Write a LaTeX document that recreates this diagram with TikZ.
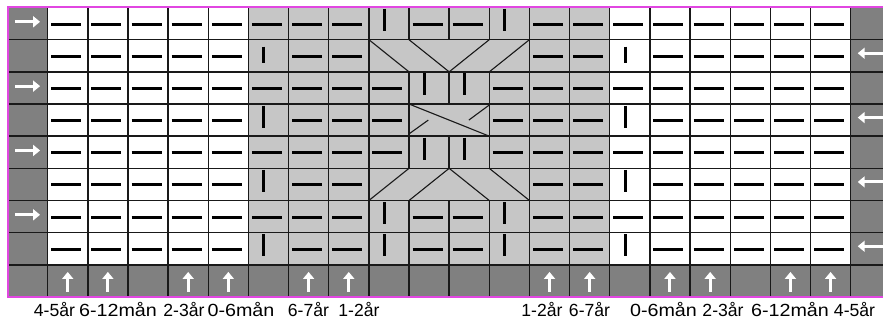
\documentclass[tikz,border=0pt]{standalone}
\usepackage{fontspec}
\usepackage{graphicx}
\setmainfont{Liberation Sans}
\usetikzlibrary{arrows.meta}
\definecolor{darkg}{RGB}{128,128,128}
\definecolor{lightg}{RGB}{198,198,198}
\definecolor{mag}{RGB}{225,70,225}
\definecolor{gridc}{RGB}{25,25,25}
\newcommand\knitdash[2]{\draw[knit] (#1+0.5,#2-0.5) ++(-16.5pt,-0.5pt) -- ++(30pt,0pt);}
\newcommand\knitbar[2]{\draw[knit] (#1+0.5,#2-1) ++(-4.7pt,-1.5pt) -- ++(0pt,-22pt);}
\newcommand\knitbarshort[2]{\draw[knit] (#1+0.5,#2-1) ++(-4.7pt,-7pt) -- ++(0pt,-16pt);}
\begin{document}
\begin{tikzpicture}[x=1pt,y=-1pt,
  gridline/.style={draw=gridc,line width=1.4},
  cabline/.style={draw=gridc,line width=1.1},
  knit/.style={line width=3.1,black},
  arr/.style={white,line width=3,-{Triangle[length=7pt,width=11pt]}},
  lab/.style={anchor=base,inner sep=0pt,font=\fontsize{17.6}{20}\selectfont}]
\useasboundingbox (0,0) rectangle (883,320);
\fill[white] (0,0) rectangle (883,320);
\begin{scope}
\clip (0,0) rectangle (883,320);
\begin{scope}[shift={(7.5,7.5)},x=40.15pt,y=-32.17pt]
 % fills
 \fill[darkg] (0,0) rectangle (22,9);
 \fill[white] (1,0) rectangle (6,8);
 \fill[white] (15,0) rectangle (21,8);
 \fill[lightg] (6,0) rectangle (15,8);
 % grid
 \foreach \r in {0,...,9} \draw[gridline] (0,\r) -- (22,\r);
 \foreach \c in {0,...,9,13,14,...,22} \draw[gridline] (\c,0) -- (\c,9);
 \draw[gridline] (10,0)--(10,1) (10,2)--(10,5) (10,6)--(10,9);
 \draw[gridline] (12,0)--(12,1) (12,2)--(12,5) (12,6)--(12,9);
 \draw[gridline] (11,0)--(11,1) (11,2)--(11,3) (11,4)--(11,5) (11,6)--(11,9);
 % cable lines
 \draw[cabline] (9,1)--(10,2) (10,1)--(11,2) (11,2)--(12,1) (12,2)--(13,1);
 \draw[cabline] (9,6)--(10,5) (10,6)--(11,5) (11,5)--(12,6) (12,5)--(13,6);
 \draw[cabline] (10,3)--(12,4);
 \draw[cabline] (10,3.93)--(10.48,3.5) (11.49,3.5)--(12,3.03);
 % border
 \draw[mag,line width=2] (22,0) -- (0,0) -- (0,9) -- (22,9);
 % stitches
 \foreach \c in {1,2,3,4,5,7,8,13,14,16,17,18,19,20}
   \foreach \r in {1,...,8} {\knitdash{\c}{\r}}
 \foreach \c in {6,15} {
   \foreach \r in {1,3,5,7} {\knitdash{\c}{\r}}
   \foreach \r in {4,6,8} {\knitbar{\c}{\r}}
   \knitbarshort{\c}{2}
 }
 \foreach \c in {9,12} {
   \foreach \r in {1,7,8} {\knitbar{\c}{\r}}
   \foreach \r in {3,4,5} {\knitdash{\c}{\r}}
 }
 \foreach \c in {10,11} {
   \foreach \r in {3,5} {\knitbar{\c}{\r}}
   \foreach \r in {1,7,8} {\knitdash{\c}{\r}}
 }
 % arrows
 \foreach \r in {1,3,5,7}
   \draw[arr] (0.5,\r-0.5) ++(-12.5pt,1.8pt) -- ++(25pt,0pt);
 \foreach \r in {2,4,6,8}
   \draw[arr] (21.5,\r-0.5) ++(13pt,2.5pt) -- ++(-26pt,0pt);
 \foreach \c in {1,2,4,5,7,8,13,14,16,17,19,20}
   \draw[arr] (\c+0.5,8.5) ++(0pt,-11pt) -- ++(0pt,20pt);
\end{scope}
\end{scope}
% labels
\node[lab] (l1) at (54.5,316.5) {4-5år};
\node[lab] (l2) at (118,316.5) {\scalebox{1.12}[1]{6-12mån}};
\node[lab] (l3) at (184,316.5) {2-3år};
\node[lab] (l4) at (241,316.5) {\scalebox{1.12}[1]{0-6mån}};
\node[lab] (l5) at (308.5,316.5) {6-7år};
\node[lab] (l6) at (359,316.5) {1-2år};
\node[lab] (r6) at (542,316.5) {1-2år};
\node[lab] (r5) at (589.5,316.5) {6-7år};
\node[lab] (r4) at (663.5,316.5) {\scalebox{1.12}[1]{0-6mån}};
\node[lab] (r3) at (723,316.5) {2-3år};
\node[lab] (r2) at (790,316.5) {\scalebox{1.12}[1]{6-12mån}};
\node[lab] (r1) at (854.5,316.5) {4-5år};
\end{tikzpicture}
\end{document}
